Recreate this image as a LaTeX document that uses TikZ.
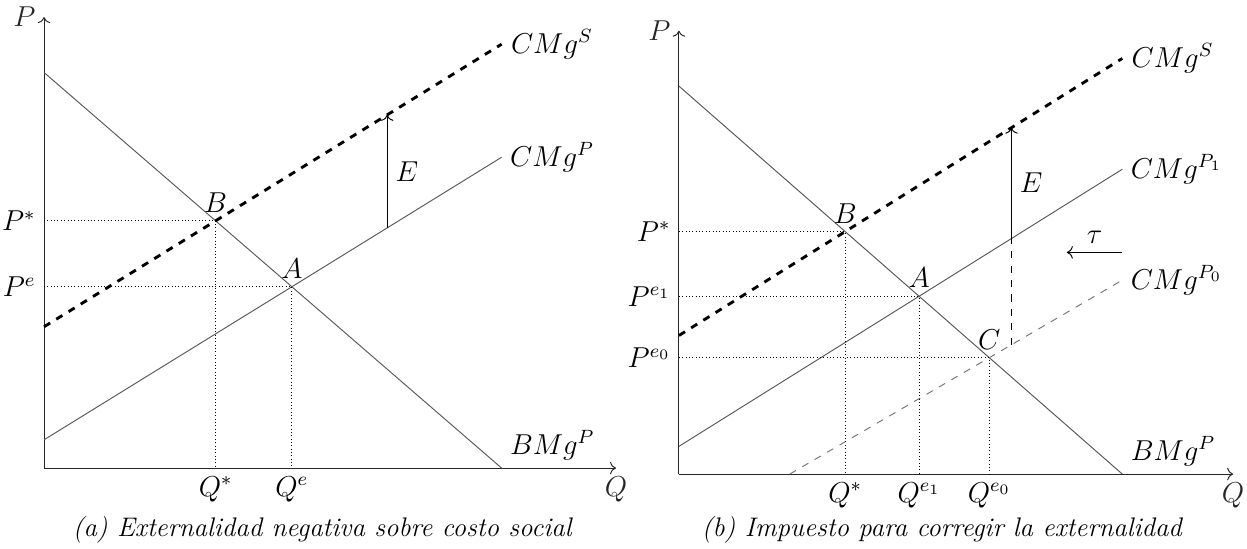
\documentclass[tikz,border=0pt]{standalone}
\usepackage{amsmath}
\usepackage{tikz}
\usetikzlibrary{arrows.meta,positioning,calc}

\begin{document}
\begin{tikzpicture}[font=\large,
  ax/.style={->, black!85},
  curve/.style={black!65},
  social/.style={very thick, dashed},
  shifted/.style={black!55, dashed},
  guide/.style={densely dotted},
  captxt/.style={font=\fontsize{11.2}{13.5}\selectfont\itshape}]
\useasboundingbox (0,0) rectangle (18.27,8.03);
% (a) externalidad
\begin{scope}[shift={(0.645,1.172)}, x=0.838cm, y=0.828cm]
\coordinate (oa) at (0,0);
\coordinate (qa) at (10,0);
\coordinate (pa) at (0,7.98);
\draw[ax] (oa) -- (qa) node[below] (lbQa) {$Q$};
\draw[ax] (oa) -- (pa) node[left] (lbPa) {$P$};
\coordinate (da0) at (0,7);   \coordinate (da1) at (8,0);
\coordinate (ca0) at (0,0.5); \coordinate (ca1) at (8,5.5);
\coordinate (sa0) at (0,2.5); \coordinate (sa1) at (8,7.5);
\draw[curve] (da0) -- (da1) node[above right, text=black] (lbBMa) {$BMg^P$};
\draw[curve] (ca0) -- (ca1) node[right, text=black] (lbCMa) {$CMg^P$};
\draw[social] (sa0) -- (sa1) node[right] (lbCSa) {$CMg^S$};
\coordinate (Ba) at (3,4.375);
\coordinate (Aa) at (4.333,3.208);
\node[above] (lbBa) at (Ba) {$B$};
\node[above] (lbAa) at (Aa) {$A$};
\draw[guide] (oa |- Ba) node[left] (lbPsa) {$P^*$} -- (Ba) -- (Ba |- oa) node[below] (lbQsa) {$Q^*$};
\draw[guide] (oa |- Aa) node[left] (lbPea) {$P^e$} -- (Aa) -- (Aa |- oa) node[below] (lbQea) {$Q^e$};
\coordinate (ea0) at (6,4.25); \coordinate (ea1) at (6,6.25);
\draw[->] (ea0) -- (ea1) node[midway, right] (lbEa) {$E$};
\end{scope}
\node[captxt] (capa) at (4.72,0.264) {(a) Externalidad negativa sobre costo social};
% (b) impuesto
\begin{scope}[shift={(9.947,1.084)}, x=0.812cm, y=0.812cm]
\coordinate (ob) at (0,0);
\coordinate (qb) at (10,0);
\coordinate (pb) at (0,8);
\draw[ax] (ob) -- (qb) node[below] (lbQb) {$Q$};
\draw[ax] (ob) -- (pb) node[left] (lbPb) {$P$};
\coordinate (db0) at (0,7);   \coordinate (db1) at (8,0);
\coordinate (cb0) at (0,0.5); \coordinate (cb1) at (8,5.5);
\coordinate (kb0) at (2,0);   \coordinate (kb1) at (8,3.5);
\coordinate (sb0) at (0,2.5); \coordinate (sb1) at (8,7.5);
\draw[curve] (db0) -- (db1) node[above right, text=black] (lbBMb) {$BMg^P$};
\draw[curve] (cb0) -- (cb1) node[right, text=black] (lbC1b) {$CMg^{P_1}$};
\draw[shifted] (kb0) -- (kb1) node[right, text=black, solid] (lbC0b) {$CMg^{P_0}$};
\draw[social] (sb0) -- (sb1) node[right] (lbCSb) {$CMg^S$};
\coordinate (Bb) at (3,4.375);
\coordinate (Ab) at (4.333,3.208);
\coordinate (Cb) at (5.6,2.1);
\node[above] (lbBb) at (Bb) {$B$};
\node[above] (lbAb) at (Ab) {$A$};
\node[above] (lbCb) at (Cb) {$C$};
\draw[guide] (ob |- Bb) node[left] (lbPsb) {$P^*$} -- (Bb) -- (Bb |- ob) node[below] (lbQsb) {$Q^*$};
\draw[guide] (ob |- Ab) node[left] (lbP1b) {$P^{e_1}$} -- (Ab) -- (Ab |- ob) node[below] (lbQ1b) {$Q^{e_1}$};
\draw[guide] (ob |- Cb) node[left] (lbP0b) {$P^{e_0}$} -- (Cb) -- (Cb |- ob) node[below] (lbQ0b) {$Q^{e_0}$};
\coordinate (eb0) at (6,2.333); \coordinate (eb1) at (6,4.25); \coordinate (eb2) at (6,6.25);
\draw[dashed] (eb0) -- (eb1);
\draw[->] (eb1) -- (eb2) node[midway, right] (lbEb) {$E$};
\coordinate (tb0) at (8,4); \coordinate (tb1) at (7,4);
\draw[->] (tb0) -- (tb1) node[midway, above] (lbTb) {$\tau$};
\end{scope}
\node[captxt] (capb) at (13.80,0.264) {(b) Impuesto para corregir la externalidad};
\end{tikzpicture}
\end{document}
